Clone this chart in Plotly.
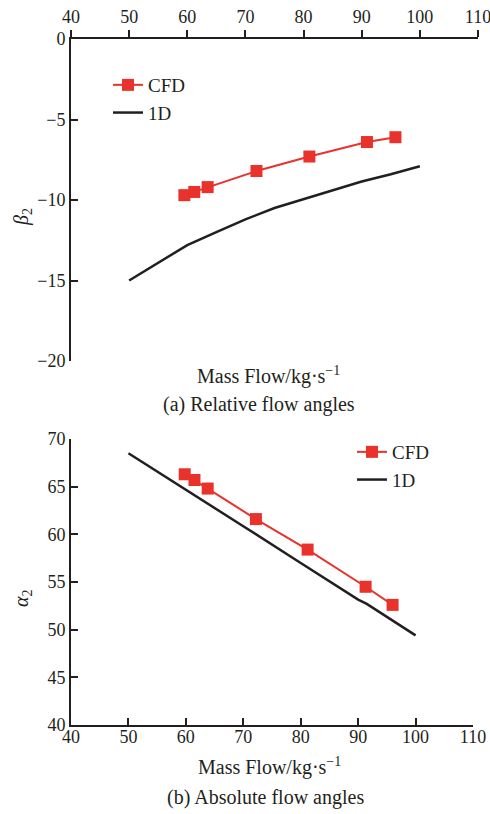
import plotly.graph_objects as go

# ---- data ----
x_ticks = [40, 50, 60, 70, 80, 90, 100, 110]
beta_ticks = [-20, -15, -10, -5, 0]
alpha_ticks = [40, 45, 50, 55, 60, 65, 70]

cfd_flow_a = [59.5, 61.2, 63.5, 71.9, 81.0, 90.9, 95.8]
cfd_beta2 = [-9.7, -9.5, -9.2, -8.2, -7.3, -6.4, -6.1]
oned_flow_a = [50, 60, 65, 70, 75, 80, 85, 90, 95, 100]
oned_beta2 = [-15.0, -12.8, -12.0, -11.2, -10.5, -9.95, -9.4, -8.85, -8.4, -7.9]

cfd_flow_b = [59.8, 61.5, 63.8, 72.2, 81.2, 91.3, 96.0]
cfd_alpha2 = [66.3, 65.7, 64.8, 61.6, 58.4, 54.5, 52.6]
oned_flow_b = [50, 60, 70, 80, 90, 91.5, 100]
oned_alpha2 = [68.5, 64.7, 60.85, 57.0, 53.15, 52.7, 49.4]

W, H = 490, 814
RED = "#e8322b"
INK = "#231f20"
FONT = "Liberation Serif"
FS = 20
TFS = 18

fig = go.Figure()
fig.add_trace(go.Scatter(x=cfd_flow_a, y=cfd_beta2, name="CFD", mode="lines+markers",
                         line=dict(color=RED, width=2), marker=dict(symbol="square", size=12, color=RED),
                         xaxis="x", yaxis="y", legend="legend"))
fig.add_trace(go.Scatter(x=oned_flow_a, y=oned_beta2, name="1D", mode="lines",
                         line=dict(color=INK, width=2.5), xaxis="x", yaxis="y", legend="legend"))
fig.add_trace(go.Scatter(x=cfd_flow_b, y=cfd_alpha2, name="CFD", mode="lines+markers",
                         line=dict(color=RED, width=2), marker=dict(symbol="square", size=12, color=RED),
                         xaxis="x2", yaxis="y2", legend="legend2"))
fig.add_trace(go.Scatter(x=oned_flow_b, y=oned_alpha2, name="1D", mode="lines",
                         line=dict(color=INK, width=2.5), xaxis="x2", yaxis="y2", legend="legend2"))

ax_common = dict(showline=True, linecolor=INK, linewidth=2, showgrid=False, zeroline=False,
                 ticklen=7, tickwidth=2, tickcolor=INK, automargin=False,
                 ticklabeloverflow="allow",
                 tickfont=dict(family=FONT, size=TFS, color=INK))

def px_x(p):
    return p / W

def px_y(p):
    return 1 - p / H

fig.update_layout(
    template="none",
    width=W, height=H,
    margin=dict(l=0, r=0, t=0, b=0, autoexpand=False),
    paper_bgcolor="white", plot_bgcolor="white",
    font=dict(family=FONT, size=FS, color=INK),
    xaxis=dict(domain=[px_x(71), px_x(478)], anchor="y", side="top", range=[40, 110],
               tickvals=x_ticks, ticks="outside", **ax_common),
    yaxis=dict(domain=[px_y(361), px_y(39)], anchor="x", range=[-20, 0],
               tickvals=beta_ticks, ticks="inside", **ax_common),
    xaxis2=dict(domain=[px_x(71), px_x(473)], anchor="y2", range=[40, 110],
                tickvals=x_ticks, ticks="inside", ticklabelstandoff=-6, **ax_common),
    yaxis2=dict(domain=[px_y(725), px_y(439)], anchor="x2", range=[40, 70],
                tickvals=alpha_ticks, ticks="inside", **ax_common),
    legend=dict(x=px_x(108), y=px_y(66), xanchor="left", yanchor="top",
                bgcolor="rgba(0,0,0,0)", tracegroupgap=0,
                font=dict(family=FONT, size=19, color=INK)),
    legend2=dict(x=px_x(352), y=px_y(433), xanchor="left", yanchor="top",
                 bgcolor="rgba(0,0,0,0)", tracegroupgap=0,
                 font=dict(family=FONT, size=19, color=INK)),
    showlegend=True,
)

ann = [
    ("Mass Flow/kg·s<sup>−1</sup>", 268, 375, 0),
    ("(a) Relative flow angles", 259, 405, 0),
    ("Mass Flow/kg·s<sup>−1</sup>", 269, 766, 0),
    ("(b) Absolute flow angles", 265, 797, 0),
    ("<i>β</i><sub>2</sub>", 22, 217, -90),
    ("<i>α</i><sub>2</sub>", 22, 598, -90),
]
for text, x, y, ang in ann:
    fig.add_annotation(text=text, x=px_x(x), y=px_y(y), xref="paper", yref="paper",
                       xanchor="center", yanchor="middle", showarrow=False, textangle=ang,
                       font=dict(family=FONT, size=FS, color=INK))

fig.write_html("out.html")
